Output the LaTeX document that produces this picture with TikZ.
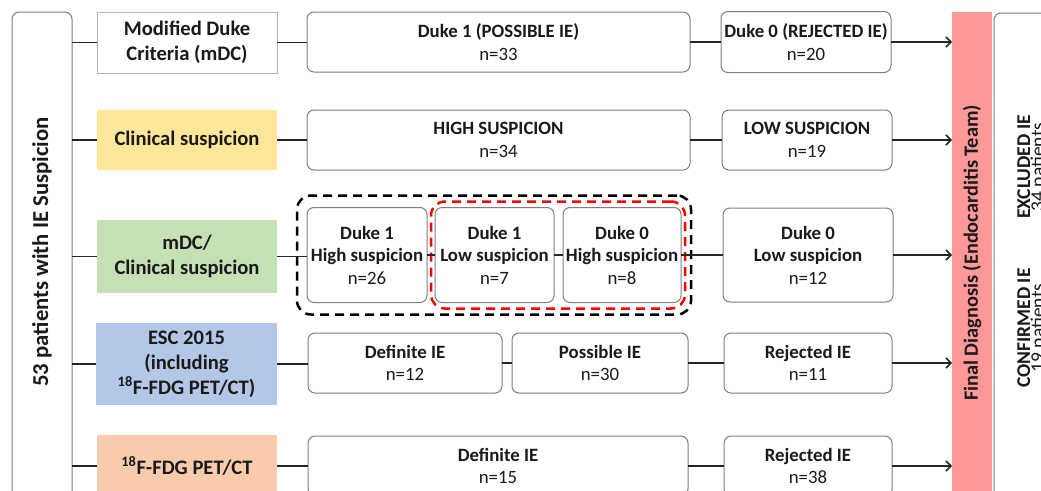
\documentclass[tikz,border=0pt]{standalone}
\usepackage{fontspec}
\setmainfont{Carlito}
\usetikzlibrary{arrows.meta,fit}
\definecolor{ln}{HTML}{262626}
\definecolor{bd}{HTML}{7F7F7F}
\definecolor{txt}{HTML}{1A1A1A}
\definecolor{cyel}{HTML}{FFE699}
\definecolor{cgrn}{HTML}{C5E0B4}
\definecolor{cblu}{HTML}{B4C7E7}
\definecolor{corg}{HTML}{F8CBAD}
\definecolor{cred}{HTML}{FF9999}
\definecolor{dred}{HTML}{FF0000}
\begin{document}
\begin{tikzpicture}[x=1pt,y=-1pt,
  base/.style={inner sep=0pt, outer sep=0pt, align=center, text=txt, font=\fontsize{18.8}{22.5}\selectfont},
  box/.style={base, draw=bd, line width=1pt, rounded corners=7pt, fill=white},
  cat/.style={base, font=\bfseries\fontsize{20.6}{25}\selectfont},
  side/.style={base, rotate=90, anchor=base, font=\fontsize{19.5}{20}\selectfont},
  conn/.style={draw=ln, line width=1.5pt},
  arr/.style={conn, -{Straight Barb[length=5pt,width=10pt]}},
  grp/.style={draw, line width=2.5pt, dash pattern=on 9pt off 6pt, rounded corners=14pt, inner sep=0pt}
]
\useasboundingbox (0,0) rectangle (1041,490);
\clip (0,0) rectangle (1041,490);

% left big box
\node[box, minimum width=60, minimum height=498] (L) at (42,261) {};
\node[base, rotate=90, font=\bfseries\fontsize{22.7}{24}\selectfont] (Lt) at (42,252) {53 patients with IE Suspicion};

% category boxes
\node[cat, draw=bd!60, line width=1pt, fill=white, minimum width=180, minimum height=61] (m1) at (187,42.5) {Modified Duke\\Criteria (mDC)};
\node[cat, fill=cyel, minimum width=180, minimum height=60] (m2) at (187,140) {Clinical suspicion};
\node[cat, fill=cgrn, minimum width=180, minimum height=73] (m3) at (187,256.5) {mDC/\\Clinical suspicion};
\node[cat, fill=cblu, minimum width=181, minimum height=82] (m4) at (186.5,364) {ESC 2015\\(including\\\textsuperscript{18}F-FDG PET/CT)};
\node[cat, fill=corg, minimum width=180, minimum height=62] (m5) at (187,466) {\textsuperscript{18}F-FDG PET/CT};

% row 1
\node[box, minimum width=383, minimum height=60] (a1) at (498.5,42) {\textbf{Duke 1 (POSSIBLE IE)}\\n=33};
\node[box, minimum width=170, minimum height=61] (b1) at (806,42) {\textbf{Duke 0 (REJECTED IE)}\\n=20};
% row 2
\node[box, minimum width=383, minimum height=60] (a2) at (498.5,140) {\textbf{HIGH SUSPICION}\\n=34};
\node[box, minimum width=170, minimum height=60] (b2) at (807,140) {\textbf{LOW SUSPICION}\\n=19};
% row 3
\node[box, minimum width=120, minimum height=95] (c1) at (367,255) {\textbf{Duke 1}\\\textbf{High suspicion}\\n=26};
\node[box, minimum width=119, minimum height=95] (c2) at (494.5,255) {\textbf{Duke 1}\\\textbf{Low suspicion}\\n=7};
\node[box, minimum width=118, minimum height=95] (c3) at (622,255) {\textbf{Duke 0}\\\textbf{High suspicion}\\n=8};
\node[box, minimum width=170, minimum height=94] (b3) at (808,255) {\textbf{Duke 0}\\\textbf{Low suspicion}\\n=12};
\node[grp, draw=dred, fit=(c2)(c3), inner xsep=4pt, inner ysep=6pt] (red) {};
\node[grp, draw=black, fit=(c1)(c3), inner xsep=10pt, inner ysep=12pt] (blk) {};
% row 4
\node[box, minimum width=194, minimum height=60] (d1) at (405,363) {\textbf{Definite IE}\\n=12};
\node[box, minimum width=176, minimum height=60] (d2) at (600,363) {\textbf{Possible IE}\\n=30};
\node[box, minimum width=168, minimum height=60] (b4) at (808,363) {\textbf{Rejected IE}\\n=11};
% row 5
\node[box, minimum width=380, minimum height=60] (e1) at (498,466) {\textbf{Definite IE}\\n=15};
\node[box, minimum width=168, minimum height=60] (b5) at (808,466) {\textbf{Rejected IE}\\n=38};

% final diagnosis bar
\node[base, fill=cred, minimum width=40, minimum height=498] (R) at (972,261) {};
\node[base, rotate=90, font=\bfseries\fontsize{20.3}{24}\selectfont] (Rt) at (972,253) {Final Diagnosis (Endocarditis Team)};
% outcome box
\node[box, minimum width=86, minimum height=497] (O) at (1037,261.5) {};
\node[side, font=\bfseries\fontsize{19.5}{20}\selectfont] (ex) at (1030,167) {EXCLUDED IE};
\node[side] (exn) at (1044,167) {34 patients};
\node[side, font=\bfseries\fontsize{19.5}{20}\selectfont] (cf) at (1030,328) {CONFIRMED IE};
\node[side] (cfn) at (1044,328) {19 patients};

% spine connectors
\foreach \m in {m1,m2,m3,m4,m5} \draw[conn] (L.east |- \m.west) -- (\m.west);
% row connectors
\draw[conn] (m1.east) -- (m1.east -| a1.west);
\draw[conn] (a1.east |- b1.west) -- (b1.west);
\draw[arr] (b1.east) -- (b1.east -| R.west);
\draw[conn] (m2.east) -- (m2.east -| a2.west);
\draw[conn] (a2.east |- b2.west) -- (b2.west);
\draw[arr] (b2.east) -- (b2.east -| R.west);
\draw[conn] (m3.east) -- (m3.east -| c1.west);
\draw[conn] (c1.east) -- (c2.west);
\draw[conn] (c2.east) -- (c3.west);
\draw[conn] (c3.east) -- (b3.west);
\draw[arr] (b3.east) -- (b3.east -| R.west);
\draw[conn] (m4.east) -- (m4.east -| d1.west);
\draw[conn] (d1.east) -- (d2.west);
\draw[conn] (d2.east) -- (b4.west);
\draw[arr] (b4.east) -- (b4.east -| R.west);
\draw[conn] (m5.east) -- (m5.east -| e1.west);
\draw[conn] (e1.east) -- (b5.west);
\draw[arr] (b5.east) -- (b5.east -| R.west);
\end{tikzpicture}
\end{document}
